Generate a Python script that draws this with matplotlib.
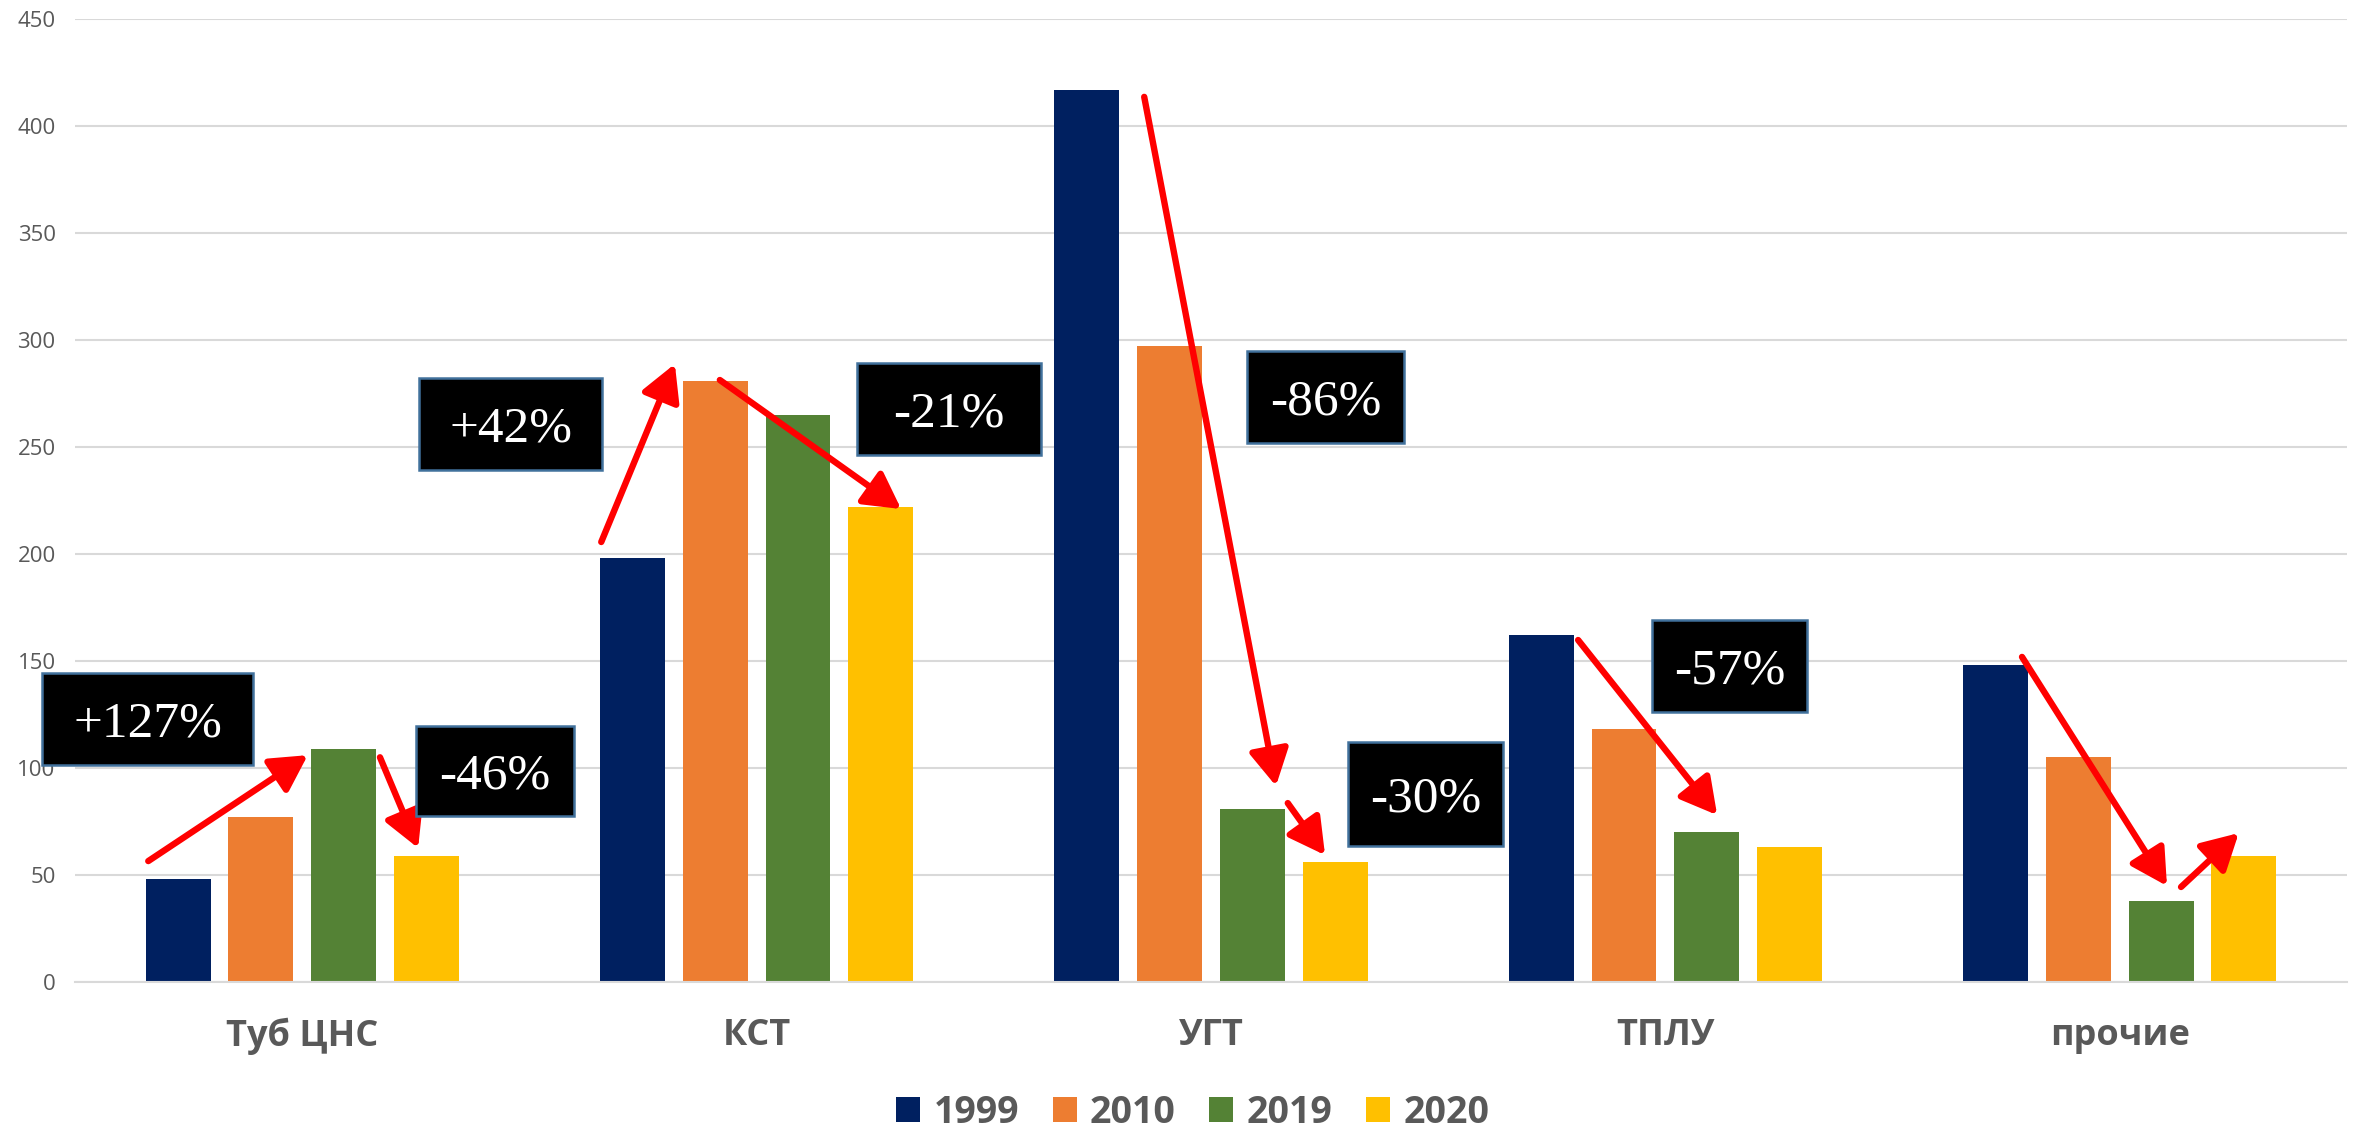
import matplotlib.pyplot as plt
import numpy as np
from matplotlib.patches import Rectangle, FancyArrowPatch

# data
categories = ["Туб ЦНС", "КСТ", "УГТ", "ТПЛУ", "прочие"]
years = ["1999", "2010", "2019", "2020"]
v1999 = [48, 198, 417, 162, 148]
v2010 = [77, 281, 297, 118, 105]
v2019 = [109, 265, 81, 70, 38]
v2020 = [59, 222, 56, 63, 59]
colors = ["#002060", "#ED7D31", "#548235", "#FFC000"]

# annotation boxes: label, x0, x1, y0, y1 (data coords)
box_labels = ["+127%", "-46%", "+42%", "-21%", "-86%", "-30%", "-57%"]
box_x = [(-0.573, -0.108), (0.250, 0.598), (0.257, 0.660), (1.221, 1.626),
         (2.079, 2.425), (2.301, 2.643), (2.970, 3.312)]
box_y = [(101.4, 144.4), (77.6, 119.6), (239.3, 282.2), (246.3, 289.3),
         (251.9, 294.9), (63.6, 112.1), (126.2, 169.2)]

# red arrows: (x0, y0) -> (x1, y1)
arrows = [
    ((-0.339, 56.5), (0.012, 106.0)),
    ((0.171, 105.0), (0.255, 62.6)),
    ((0.658, 205.6), (0.820, 288.8)),
    ((0.919, 281.3), (1.318, 221.0)),
    ((1.853, 413.6), (2.143, 91.6)),
    ((2.169, 83.6), (2.251, 59.3)),
    ((2.808, 159.8), (3.114, 78.0)),
    ((3.785, 151.9), (4.104, 44.9)),
    ((4.135, 44.4), (4.262, 69.6)),
]

series = [v1999, v2010, v2019, v2020]

fig = plt.figure(figsize=(23.62, 11.29), dpi=100)
ax = fig.add_axes([0.0318, 0.1302, 0.9618, 0.853])

x = np.arange(len(categories))
width = 0.143
step = 0.182
for i, (vals, yr, c) in enumerate(zip(series, years, colors)):
    ax.bar(x + (i - 1.5) * step, vals, width, color=c, label=yr, zorder=2)

ax.set_xlim(-0.5, 4.5)
ax.set_ylim(0, 450)
ax.set_yticks(range(0, 451, 50))
ax.grid(axis="y", color="#D9D9D9", linewidth=1.5, zorder=0)
ax.set_axisbelow(True)
for s in ["top", "right", "left"]:
    ax.spines[s].set_visible(False)
ax.spines["bottom"].set_color("#D9D9D9")
ax.spines["bottom"].set_linewidth(1.5)

ax.set_xticks(x)
ax.set_xticklabels(categories, fontsize=26, fontweight="bold", color="#595959",
                   fontfamily="Open Sans")
ax.tick_params(axis="x", length=0, pad=26)
ax.tick_params(axis="y", length=0, labelsize=16, labelcolor="#595959", pad=14)
for lab in ax.get_yticklabels():
    lab.set_fontfamily("Open Sans")

for (a, b) in arrows:
    arr = FancyArrowPatch(a, b, arrowstyle="-|>,head_length=1.0,head_width=0.55",
                          mutation_scale=22, color="red", lw=4.6,
                          shrinkA=0, shrinkB=0, zorder=4)
    ax.add_patch(arr)

for lab, (x0, x1), (y0, y1) in zip(box_labels, box_x, box_y):
    ax.add_patch(Rectangle((x0, y0), x1 - x0, y1 - y0, facecolor="black",
                           edgecolor="#41719C", lw=1.8, zorder=5, clip_on=False))
    ax.text((x0 + x1) / 2, (y0 + y1) / 2, lab, color="white", fontsize=37,
            fontfamily="Liberation Serif", ha="center", va="center_baseline",
            zorder=6, clip_on=False)

leg = fig.legend(loc="center", bbox_to_anchor=(0.505, 0.0142), ncol=4, frameon=False,
                 handlelength=0.64, handleheight=0.64, handletextpad=0.35,
                 columnspacing=0.9, prop={"family": "Open Sans", "weight": "bold", "size": 27})
for t in leg.get_texts():
    t.set_color("#595959")

fig.savefig("out.png", dpi=100)
